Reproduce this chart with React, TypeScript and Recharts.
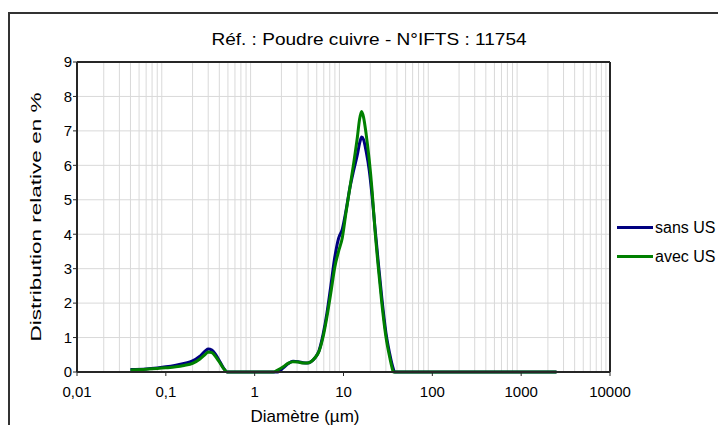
import {
  LineChart,
  Line,
  XAxis,
  YAxis,
  CartesianGrid,
  ReferenceLine,
  Legend,
} from "recharts";

// diamètre (µm), échelle log
const diameters = [
  0.04, 0.06, 0.08, 0.1, 0.13, 0.16, 0.2, 0.24, 0.28, 0.3, 0.33, 0.37, 0.41,
  0.45, 0.49, 0.6, 1, 1.4, 1.62, 1.79, 2.1, 2.4, 2.7, 3.1, 3.5, 3.9, 4.3, 4.8,
  5.3, 5.9, 6.5, 7.2, 8, 8.8, 9.7, 10.7, 11.8, 13, 14.3, 15.2, 16, 16.8, 18,
  19.5, 21, 22.6, 24.6, 27, 30, 33, 35, 36.5, 37.6, 40, 60, 100, 300, 1000,
  2500,
];

const sansUS = [
  0.07, 0.09, 0.12, 0.15, 0.2, 0.25, 0.32, 0.45, 0.62, 0.67, 0.64, 0.48, 0.28,
  0.1, 0, 0, 0, 0, 0, 0, 0.12, 0.25, 0.31, 0.3, 0.27, 0.26, 0.3, 0.42, 0.62,
  1.1, 1.7, 2.5, 3.35, 3.88, 4.15, 4.7, 5.35, 5.85, 6.3, 6.65, 6.82, 6.75, 6.4,
  5.85, 5.1, 4.2, 3.2, 2.15, 1.15, 0.55, 0.25, 0.08, 0, 0, 0, 0, 0, 0, 0,
];

const avecUS = [
  0.06, 0.08, 0.1, 0.12, 0.15, 0.19, 0.25, 0.37, 0.52, 0.58, 0.56, 0.42, 0.25,
  0.09, 0, 0, 0, 0, 0, 0.05, 0.15, 0.26, 0.3, 0.29, 0.26, 0.26, 0.3, 0.42, 0.6,
  1.03, 1.6, 2.3, 3.06, 3.5, 3.9, 4.65, 5.35, 6.05, 6.8, 7.35, 7.56, 7.4, 6.9,
  6.15, 5.25, 4.13, 3.06, 2.0, 1.03, 0.45, 0.15, 0, 0, 0, 0, 0, 0, 0, 0,
];

const seriesNames = ["sans US", "avec US"];
const xTicks = [0.01, 0.1, 1, 10, 100, 1000, 10000];
const yTicks = [0, 1, 2, 3, 4, 5, 6, 7, 8, 9];

const data = diameters.map((d, i) => ({
  d,
  sans: sansUS[i],
  avec: avecUS[i],
}));

// quadrillage secondaire : 2..9 x chaque décade
const minorX: number[] = [];
xTicks.slice(0, -1).forEach((dec) => {
  for (let k = 2; k <= 9; k++) minorX.push(dec * k);
});

const FONT = '"Liberation Sans", Arial, sans-serif';
const AXIS = "#262626";

function LegendBox({ payload }: any) {
  const items = [...(payload || [])].sort(
    (a: any, b: any) => seriesNames.indexOf(a.value) - seriesNames.indexOf(b.value)
  );
  return (
    <div style={{ fontFamily: FONT, fontSize: 16, color: "#000" }}>
      {items.map((p: any) => (
        <div
          key={p.value}
          style={{ display: "flex", alignItems: "center", height: 29 }}
        >
          <span
            style={{
              display: "inline-block",
              width: 36,
              height: 3,
              background: p.color,
              marginRight: 2,
            }}
          />
          <span style={{ whiteSpace: "nowrap" }}>{p.value}</span>
        </div>
      ))}
    </div>
  );
}

export default function App() {
  return (
    <div style={{ position: "relative", width: 718, height: 417 }}>
      <style>{"html{overflow:hidden}"}</style>
      <div
        style={{
          position: "absolute",
          left: 0,
          top: 4,
          width: 718,
          height: 413,
          borderLeft: "2px solid #333",
          borderTop: "2px solid #333",
          boxSizing: "border-box",
        }}
      />
      <div
        style={{
          position: "absolute",
          left: 361,
          top: 22,
          fontFamily: FONT,
          fontSize: 17,
          lineHeight: "20px",
          transform: "translateX(-50%) scaleX(1.12)",
          whiteSpace: "nowrap",
        }}
      >
        Réf. : Poudre cuivre - N°IFTS : 11754
      </div>
      <div
        style={{
          position: "absolute",
          left: 27,
          top: 209,
          fontFamily: FONT,
          fontSize: 15,
          lineHeight: "17px",
          whiteSpace: "nowrap",
          transform: "translate(-50%, -50%) rotate(-90deg) scaleX(1.5)",
        }}
      >
        Distribution relative en %
      </div>
      <div
        style={{
          position: "absolute",
          left: 297,
          top: 399,
          fontFamily: FONT,
          fontSize: 17,
          lineHeight: "20px",
          whiteSpace: "nowrap",
        }}
      >
        <span style={{ position: "relative", left: "-50%" }}>Diamètre (µm)</span>
      </div>
      <div style={{ position: "absolute", left: 0, top: 0 }}>
        <LineChart
          width={718}
          height={417}
          data={data}
          margin={{ top: 54, right: 116, bottom: 23, left: 9 }}
        >
          <CartesianGrid stroke="#d9d9d9" vertical={false} />
          {minorX.map((v) => (
            <ReferenceLine key={v} x={v} stroke="#d9d9d9" strokeWidth={1} />
          ))}
          <ReferenceLine y={9} stroke={AXIS} strokeWidth={2} />
          <ReferenceLine x={10000} stroke={AXIS} strokeWidth={2} />
          <XAxis
            dataKey="d"
            type="number"
            scale="log"
            domain={[0.01, 10000]}
            allowDataOverflow
            ticks={xTicks}
            tickFormatter={(v: number) => String(v).replace(".", ",")}
            height={30}
            tickSize={4}
            tickMargin={10}
            axisLine={{ stroke: AXIS, strokeWidth: 2 }}
            tickLine={{ stroke: AXIS }}
            tick={{ fill: "#000", fontSize: 15, fontFamily: FONT }}
          />
          <YAxis
            type="number"
            domain={[0, 9]}
            ticks={yTicks}
            width={60}
            tickSize={4}
            tickMargin={1}
            axisLine={{ stroke: AXIS, strokeWidth: 2 }}
            tickLine={{ stroke: AXIS }}
            tick={{ fill: "#000", fontSize: 15, fontFamily: FONT }}
          />
          <Legend
            layout="vertical"
            align="center"
            verticalAlign="middle"
            content={<LegendBox />}
            wrapperStyle={{ left: 609, top: 205, width: 110 }}
          />
          <Line
            type="monotone"
            dataKey="sans"
            name={seriesNames[0]}
            stroke="#000080"
            strokeWidth={3}
            dot={false}
            isAnimationActive={false}
          />
          <Line
            type="monotone"
            dataKey="avec"
            name={seriesNames[1]}
            stroke="#008000"
            strokeWidth={3}
            dot={false}
            isAnimationActive={false}
          />
        </LineChart>
      </div>
    </div>
  );
}
